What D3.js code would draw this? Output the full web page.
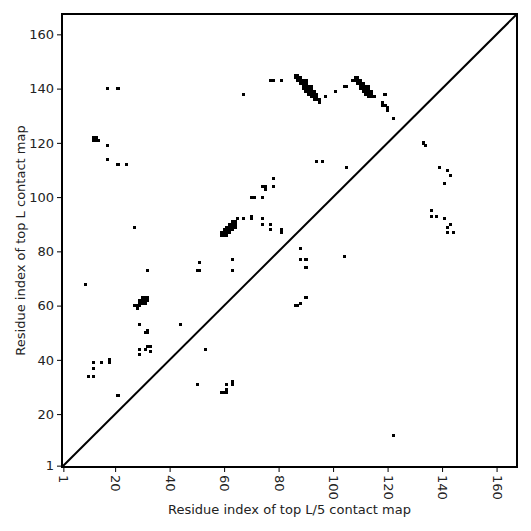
<!DOCTYPE html>
<html>
<head>
<meta charset="utf-8">
<script src="https://cdn.jsdelivr.net/npm/d3@7"></script>
<style>
  body { margin: 0; background: #fff; }
  text { font-family: "DejaVu Sans", sans-serif; }
</style>
</head>
<body>
<svg id="chart" width="531" height="531"></svg>
<script>
// ---- data ----
const seqLength = 167;
const tickValues = [1, 20, 40, 60, 80, 100, 120, 140, 160];
const xLabel = "Residue index of top L/5 contact map";
const yLabel = "Residue index of top L contact map";

// contacts above the diagonal [x residue, y residue]
const contactsAbove = [
  [17,140],[21,140],
  [12,122],[13,122],[12,121],[13,121],[14,121],
  [17,119],[17,114],[21,112],[24,112],
  [67,138],[77,143],[78,143],[81,143],
  [86,145],[87,145],
  [86,144],[87,144],[88,144],
  [87,143],[88,143],[89,143],[90,143],
  [88,142],[89,142],[90,142],
  [89,141],[90,141],[91,141],[92,141],
  [89,140],[90,140],[91,140],[92,140],
  [90,139],[91,139],[92,139],[93,139],
  [91,138],[92,138],[93,138],[94,138],
  [92,137],[93,137],[94,137],
  [93,136],[94,136],[95,136],
  [95,135],
  [97,137],[101,139],[104,141],[105,141],
  [108,144],[109,144],
  [107,143],[108,143],[109,143],[110,143],
  [109,142],[110,142],[111,142],
  [110,141],[111,141],[112,141],[113,141],
  [110,140],[111,140],[112,140],[113,140],
  [111,139],[112,139],[113,139],[114,139],
  [112,138],[113,138],[114,138],
  [113,137],[114,137],[115,137],
  [119,138],[118,135],[118,134],[119,134],[120,133],[120,132],[122,129],
  [105,111],[94,113],[96,113],[78,107],
  [27,89],[51,76],[32,73],[50,73],[51,73],[9,68],
  [30,63],[31,63],[32,63],
  [29,62],[30,62],[31,62],[32,62],
  [29,61],[30,61],[31,61],
  [27,60],[28,60],[29,60],
  [28,59],
  [29,53],[44,53],[32,51],[31,50],[32,50],[32,45],[33,45],
  [31,44],[29,44],[29,42],[33,43],
  [12,39],[15,39],[18,39],[18,40],[12,37],[10,34],[12,34],[21,27],
  [74,104],[75,104],[75,103],[78,104],[70,100],[71,100],[74,100],
  [63,91],[64,91],
  [62,90],[63,90],[64,90],
  [61,89],[62,89],[63,89],[64,89],
  [60,88],[61,88],[62,88],[63,88],
  [59,87],[60,87],[61,87],[62,87],
  [59,86],[60,86],[61,86],
  [65,92],[67,92],[70,92],[70,93],[74,92],[74,90],[77,90],[77,88],[81,88],[81,87],
  [63,77],[63,73]
];

// contacts below the diagonal [x residue, y residue]
const contactsBelow = [
  [104,78],[122,12],[133,120],[134,119],[139,111],[142,110],[143,108],[141,105],
  [136,95],[136,93],[138,93],[141,92],[142,89],[143,90],[142,87],[144,87],
  [88,81],[88,77],[90,77],[90,74],[90,63],[86,60],[87,60],[88,61],
  [53,44],[50,31],[61,31],[63,32],[63,31],[59,28],[60,28],[61,28],[61,29]
];

// ---- chart ----
const svg = d3.select("#chart");
const mLeft = 62, mRight = 517, mTop = 14, mBottom = 467;

const x = d3.scaleLinear().domain([0.5, seqLength + 0.5]).range([mLeft, mRight]);
const y = d3.scaleLinear().domain([0.5, seqLength + 0.5]).range([mBottom, mTop]);

const allContacts = contactsAbove.concat(contactsBelow);

svg.append("g")
  .attr("shape-rendering", "crispEdges")
  .selectAll("rect")
  .data(allContacts)
  .join("rect")
  .attr("x", d => x(d[0] - 0.5))
  .attr("y", d => y(d[1] + 0.5))
  .attr("width", d => x(d[0] + 0.5) - x(d[0] - 0.5) + 0.3)
  .attr("height", d => y(d[1] - 0.5) - y(d[1] + 0.5) + 0.3)
  .attr("fill", "#000");

// diagonal
svg.append("line")
  .attr("x1", x(0.5)).attr("y1", y(0.5))
  .attr("x2", x(seqLength + 0.5)).attr("y2", y(seqLength + 0.5))
  .attr("stroke", "#000").attr("stroke-width", 2);

// axes
const xAxis = svg.append("g")
  .attr("transform", `translate(0,${mBottom})`)
  .call(d3.axisBottom(x).tickValues(tickValues).tickSize(5).tickSizeOuter(0));
xAxis.select(".domain").remove();
xAxis.selectAll("line").attr("stroke", "#000").attr("stroke-width", 1);
xAxis.selectAll("text")
  .attr("fill", "#222")
  .style("font-size", "13px")
  .attr("text-anchor", "start")
  .attr("x", 8)
  .attr("y", 0)
  .attr("dy", "0.35em")
  .attr("transform", "rotate(90)");

const yAxis = svg.append("g")
  .attr("transform", `translate(${mLeft},0)`)
  .call(d3.axisLeft(y).tickValues(tickValues).tickSize(5).tickSizeOuter(0));
yAxis.select(".domain").remove();
yAxis.selectAll("line").attr("stroke", "#000").attr("stroke-width", 1);
yAxis.selectAll("text")
  .attr("fill", "#222")
  .style("font-size", "13px")
  .attr("x", -8);

// frame
svg.append("rect")
  .attr("x", mLeft).attr("y", mTop)
  .attr("width", mRight - mLeft).attr("height", mBottom - mTop)
  .attr("fill", "none").attr("stroke", "#000").attr("stroke-width", 2);

// axis labels
svg.append("text")
  .attr("x", (mLeft + mRight) / 2).attr("y", 514)
  .attr("text-anchor", "middle")
  .style("font-size", "13px").attr("fill", "#222")
  .text(xLabel);

svg.append("text")
  .attr("transform", `translate(25,${(mTop + mBottom) / 2}) rotate(-90)`)
  .attr("text-anchor", "middle")
  .style("font-size", "13px").attr("fill", "#222")
  .text(yLabel);
</script>
</body>
</html>
